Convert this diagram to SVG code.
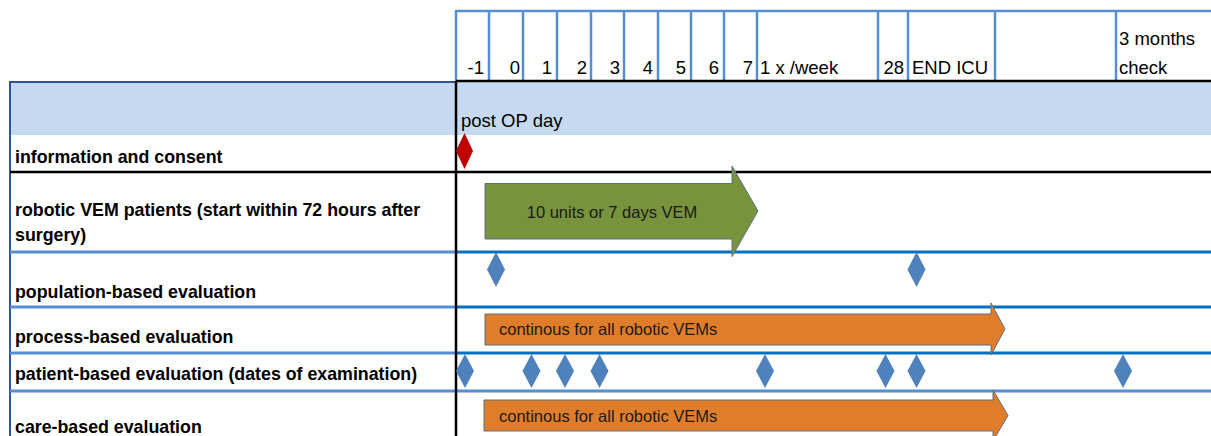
<svg xmlns="http://www.w3.org/2000/svg" width="1211" height="436" viewBox="0 0 1211 436">
<style>
.hdr{font-family:"Liberation Sans",Arial,sans-serif;font-size:18.5px;fill:#000}
.lbl{font-family:"Liberation Sans",Arial,sans-serif;font-size:17.8px;font-weight:bold;fill:#000}
.in{font-family:"Liberation Sans",Arial,sans-serif;font-size:16.5px;fill:#1a1a1a}
.vl{stroke:#558ED5;stroke-width:2.5}
.blk{stroke:#000;stroke-width:2.5}
.bd{stroke:#0070C0;stroke-width:3}
.bl{stroke:#558ED5;stroke-width:3}
.dia{fill:#4F81BD}
.arr{fill:#E07D2B;stroke:#5E6E86;stroke-width:1}
</style>
<rect width="1211" height="436" fill="#fff"/>
<g id="grid">
  <rect x="10" y="82" width="1201" height="53" fill="#C5D9F1"/>
  <line class="vl" x1="456" y1="11" x2="1211" y2="11"/>
  <g class="vl">
    <line x1="456" y1="10" x2="456" y2="81"/>
    <line x1="489" y1="10" x2="489" y2="81"/>
    <line x1="523" y1="10" x2="523" y2="81"/>
    <line x1="557" y1="10" x2="557" y2="81"/>
    <line x1="591" y1="10" x2="591" y2="81"/>
    <line x1="624" y1="10" x2="624" y2="81"/>
    <line x1="658" y1="10" x2="658" y2="81"/>
    <line x1="691" y1="10" x2="691" y2="81"/>
    <line x1="724" y1="10" x2="724" y2="81"/>
    <line x1="757" y1="10" x2="757" y2="81"/>
    <line x1="878" y1="10" x2="878" y2="81"/>
    <line x1="908" y1="10" x2="908" y2="81"/>
    <line x1="995" y1="10" x2="995" y2="81"/>
    <line x1="1116" y1="10" x2="1116" y2="81"/>
  </g>
  <line x1="10" y1="82" x2="456" y2="82" stroke="#2F5597" stroke-width="2"/>
  <line class="blk" x1="456" y1="81" x2="1211" y2="81"/>
  <line x1="10" y1="81" x2="10" y2="436" stroke="#2F5597" stroke-width="2"/>
  <line class="blk" x1="10" y1="172" x2="1211" y2="172"/>
  <line class="bl" x1="10" y1="252" x2="456" y2="252"/>
  <line class="bd" x1="456" y1="252" x2="1211" y2="252"/>
  <line class="bl" x1="10" y1="307" x2="456" y2="307"/>
  <line class="bd" x1="456" y1="307" x2="1211" y2="307"/>
  <line class="bl" x1="10" y1="353" x2="456" y2="353"/>
  <line class="bd" x1="456" y1="353" x2="1211" y2="353"/>
  <line class="bl" x1="10" y1="391" x2="1211" y2="391"/>
  <line class="blk" x1="456" y1="81" x2="456" y2="436"/>
</g>
<g id="header">
  <g class="hdr" text-anchor="end">
    <text x="484" y="74">-1</text>
    <text x="520" y="74">0</text>
    <text x="552" y="74">1</text>
    <text x="587" y="74">2</text>
    <text x="620" y="74">3</text>
    <text x="653" y="74">4</text>
    <text x="686" y="74">5</text>
    <text x="719" y="74">6</text>
    <text x="753" y="74">7</text>
    <text x="904" y="74">28</text>
  </g>
  <text class="hdr" x="760" y="74">1 x /week</text>
  <text class="hdr" x="912" y="74">END ICU</text>
  <text class="hdr" x="1119" y="45">3 months</text>
  <text class="hdr" x="1119" y="74">check</text>
  <text class="hdr" x="461" y="127">post OP day</text>
</g>
<g id="row-consent">
  <text class="lbl" x="15" y="163">information and consent</text>
  <polygon points="464.5,133 473,151 464.5,169 456,151" fill="#C00000"/>
</g>
<g id="row-robotic">
  <text class="lbl" x="15" y="216">robotic VEM patients (start within 72 hours after</text>
  <text class="lbl" x="15" y="241">surgery)</text>
  <polygon points="485,183.5 732,183.5 732,166 758,211 732,256.5 732,239 485,239" fill="#77933C" stroke="#5E6E86" stroke-width="1"/>
  <text class="in" x="612" y="218" text-anchor="middle">10 units  or 7 days VEM</text>
</g>
<g id="row-population">
  <text class="lbl" x="15" y="298">population-based evaluation</text>
  <polygon class="dia" points="496,252 505,269.5 496,287 487,269.5"/>
  <polygon class="dia" points="916.5,252 925.5,269.5 916.5,287 907.5,269.5"/>
</g>
<g id="row-process">
  <text class="lbl" x="15" y="343">process-based evaluation</text>
  <polygon class="arr" points="485,314 991,314 991,303 1005,329 991,355 991,345 485,345"/>
  <text class="in" x="499" y="335">continous for all robotic VEMs</text>
</g>
<g id="row-patient">
  <text class="lbl" x="15" y="380">patient-based evaluation (dates of examination)</text>
  <g class="dia">
    <polygon points="465,354 474,371 465,388 456,371"/>
    <polygon points="531.5,354 540.5,371 531.5,388 522.5,371"/>
    <polygon points="565,354 574,371 565,388 556,371"/>
    <polygon points="599.5,354 608.5,371 599.5,388 590.5,371"/>
    <polygon points="765,354 774,371 765,388 756,371"/>
    <polygon points="885.5,354 894.5,371 885.5,388 876.5,371"/>
    <polygon points="916.5,354 925.5,371 916.5,388 907.5,371"/>
    <polygon points="1123,354 1132,371 1123,388 1114,371"/>
  </g>
</g>
<g id="row-care">
  <text class="lbl" x="15" y="433">care-based evaluation</text>
  <polygon class="arr" points="484,400 993,400 993,390 1008,415.5 993,441 993,431 484,431"/>
  <text class="in" x="499" y="422">continous for all robotic VEMs</text>
</g>
<g id="connectors"></g>
</svg>
